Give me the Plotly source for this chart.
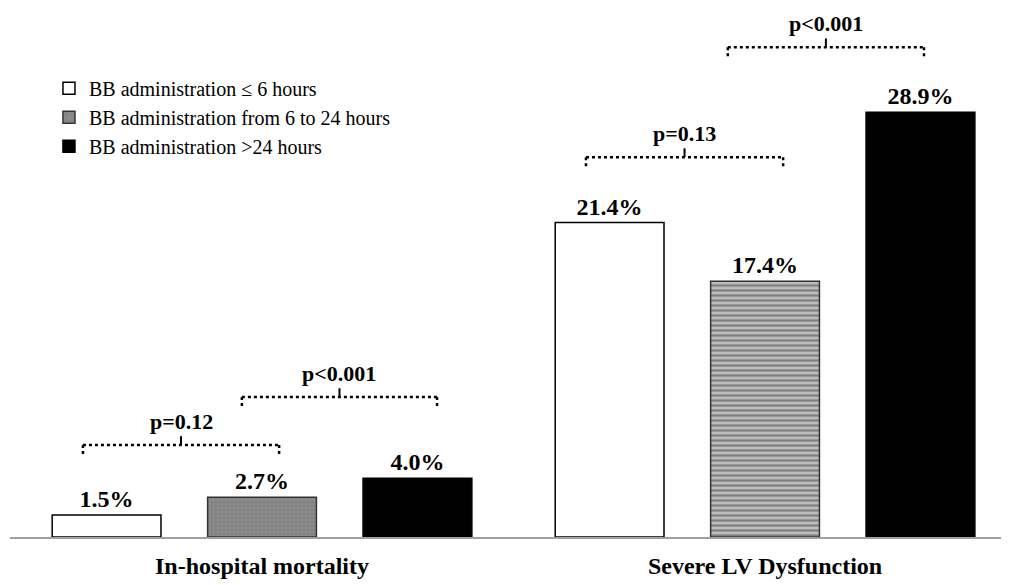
import plotly.graph_objects as go

categories = ["In-hospital mortality", "Severe LV Dysfunction"]
series_names = [
    "BB administration \u2264 6 hours",
    "BB administration from 6 to 24 hours",
    "BB administration >24 hours",
]
early = [1.5, 21.4]
middle = [2.7, 17.4]
late = [4.0, 28.9]

# significance brackets: (x start, x end, y level, label) in axis units
br_x0 = [-0.356, -0.040, 0.644, 0.926]
br_x1 = [0.034, 0.348, 1.036, 1.316]
br_y = [6.26, 9.52, 25.85, 33.33]
br_text = ["p=0.12", "p<0.001", "p=0.13", "p<0.001"]

SERIF = "Liberation Serif, Times New Roman, serif"

fig = go.Figure()
fig.add_trace(go.Bar(
    x=categories, y=early, name=series_names[0],
    marker=dict(color="white", line=dict(color="black", width=1.5)),
))
fig.add_trace(go.Bar(
    x=categories, y=middle, name=series_names[1],
    marker=dict(color=["#8c8c8c", "#bdbdbd"], line=dict(color="#333333", width=1.5),
                pattern=dict(shape=["+", "-"], fgcolor=["#7a7a7a", "#333333"],
                             bgcolor=["#8f8f8f", "#d8d8d8"], size=[4, 5],
                             solidity=[0.15, 0.45], fillmode="overlay")),
))
fig.add_trace(go.Bar(
    x=categories, y=late, name=series_names[2],
    marker=dict(color="black", line=dict(color="black", width=1.5)),
))

for tr in fig.data:
    tr.update(texttemplate="<b>%{y:.1f}%</b>", textposition="outside", cliponaxis=False,
              textfont=dict(family=SERIF, size=24, color="black"))

shapes = []
annotations = []
for x0, x1, y, t in zip(br_x0, br_x1, br_y, br_text):
    xc = (x0 + x1) / 2
    ln = dict(color="black", width=2.5, dash="dot")
    shapes.append(dict(type="line", xref="x", yref="y", x0=x0, x1=x1, y0=y, y1=y, line=ln))
    shapes.append(dict(type="line", xref="x", yref="y", x0=x0, x1=x0, y0=y, y1=y - 0.7, line=ln))
    shapes.append(dict(type="line", xref="x", yref="y", x0=x1, x1=x1, y0=y, y1=y - 0.7, line=ln))
    shapes.append(dict(type="line", xref="x", yref="y", x0=xc, x1=xc, y0=y, y1=y + 0.6,
                       line=dict(color="black", width=2)))
    annotations.append(dict(x=xc, y=y + 0.6, xref="x", yref="y", text="<b>%s</b>" % t,
                            showarrow=False, yanchor="bottom",
                            font=dict(family=SERIF, size=22, color="black")))

fig.update_layout(
    width=1009, height=585,
    margin=dict(l=2, r=8, t=0, b=56),
    paper_bgcolor="white", plot_bgcolor="white",
    barmode="group", bargap=0.073, bargroupgap=0.3,
    shapes=shapes, annotations=annotations,
    legend=dict(x=0.039, y=0.885, xanchor="left", yanchor="top",
                font=dict(family=SERIF, size=20, color="black"),
                bgcolor="rgba(0,0,0,0)", tracegroupgap=0, itemwidth=30),
    font=dict(family=SERIF, color="black"),
)
fig.update_xaxes(range=[-0.501, 1.485], showline=True, linecolor="#a0a0a0", linewidth=1.5,
                 ticks="", showgrid=False, zeroline=False, automargin=False,
                 tickfont=dict(family=SERIF, size=24, color="black"),
                 tickvals=categories, ticktext=["<b>%s</b>" % c for c in categories],
                 ticklabelstandoff=6)
fig.update_yaxes(range=[0, 36], visible=False, showgrid=False, zeroline=False, automargin=False)

fig.write_html("out.html")
